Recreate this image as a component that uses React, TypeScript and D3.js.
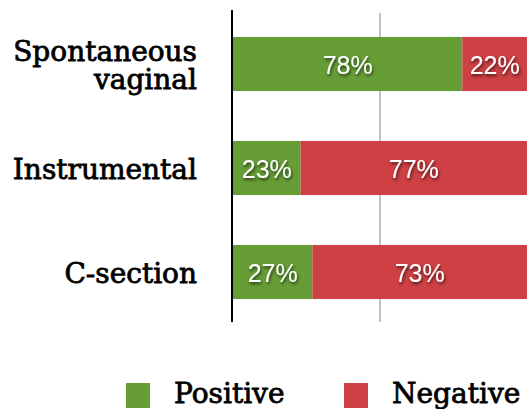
import React from "react";
import * as d3 from "d3";

const categories = ["Spontaneous vaginal", "Instrumental", "C-section"];
const categoryLines = [["Spontaneous", "vaginal"], ["Instrumental"], ["C-section"]];
const positive = [78, 23, 27];
const negative = [22, 77, 73];
const seriesNames = ["Positive", "Negative"];
const colors = ["#669d35", "#cd4044"];
const gridTicks = [50];

const W = 527;
const H = 409;

export default function App() {
  const x = d3.scaleLinear().domain([0, 100]).range([233, 527]);
  const y = d3.scaleBand<string>().domain(categories).range([12, 324]).paddingInner(0.48).paddingOuter(0.24);
  const rows = categories.map((c, i) => ({ c, vals: [positive[i], negative[i]], lines: categoryLines[i] }));
  const serif = "'DejaVu Serif', serif";
  const sans = "'Liberation Sans', Arial, sans-serif";
  return (
    <svg width={W} height={H} style={{ position: "absolute", left: 0, top: 0 }}>
      <defs>
        <filter id="sh" x="-20%" y="-20%" width="140%" height="160%">
          <feDropShadow dx="1" dy="2" stdDeviation="1.4" floodColor="#000" floodOpacity="0.65" />
        </filter>
      </defs>
      {gridTicks.map((t) => (
        <line key={t} x1={x(t)} x2={x(t)} y1={13} y2={322} stroke="#b3b3b3" strokeWidth={1.6} />
      ))}
      {rows.map((r) => {
        const y0 = y(r.c)!;
        const bw = y.bandwidth();
        const cy = y0 + bw / 2;
        let acc = 0;
        return (
          <g key={r.c}>
            {r.vals.map((v, j) => {
              const x0 = x(acc);
              const x1 = x(acc + v);
              acc += v;
              return (
                <g key={j}>
                  <rect x={x0} y={y0} width={x1 - x0} height={bw} fill={colors[j]} />
                  <text x={(x0 + x1) / 2} y={cy + 9.5} textAnchor="middle" fill="#fff" fontFamily={sans} fontSize={25} filter="url(#sh)">
                    {v}%
                  </text>
                </g>
              );
            })}
            {r.lines.length === 1 ? (
              <text x={197} y={cy + 10.5} textAnchor="end" fontFamily={serif} fontSize={28} fill="#000" stroke="#000" strokeWidth={0.8}>
                {r.lines[0]}
              </text>
            ) : (
              <text textAnchor="end" fontFamily={serif} fontSize={28} fill="#000" stroke="#000" strokeWidth={0.8}>
                <tspan x={197} y={cy - 3}>{r.lines[0]}</tspan>
                <tspan x={197} y={cy + 25}>{r.lines[1]}</tspan>
              </text>
            )}
          </g>
        );
      })}
      <line x1={232} x2={232} y1={10} y2={322} stroke="#000" strokeWidth={2} />
      {seriesNames.map((s, i) => {
        const lx = [126, 344][i];
        return (
          <g key={s}>
            <rect x={lx} y={383} width={24} height={25} fill={colors[i]} />
            <text x={lx + 48} y={403} fontFamily={serif} fontSize={28} fill="#000" stroke="#000" strokeWidth={0.8}>
              {s}
            </text>
          </g>
        );
      })}
    </svg>
  );
}
